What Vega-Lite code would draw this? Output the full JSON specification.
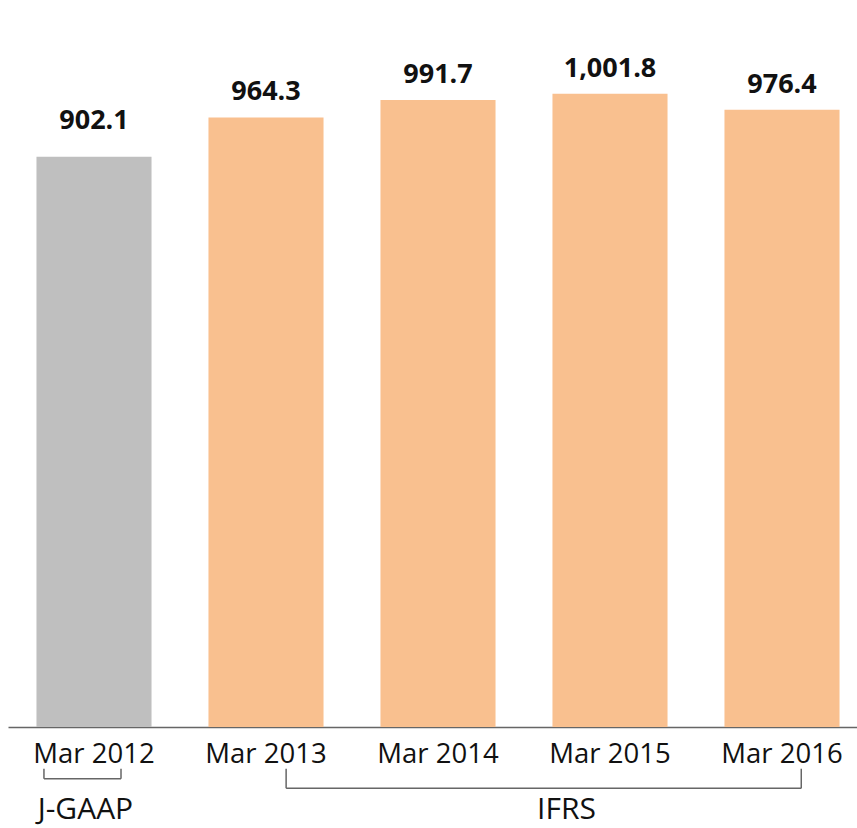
{
  "$schema": "https://vega.github.io/schema/vega-lite/v6.json",
  "width": 860,
  "height": 727,
  "autosize": {"type": "none"},
  "padding": {"left": 8, "top": 0, "right": 0, "bottom": 101},
  "background": "white",
  "config": {"view": {"stroke": null}, "font": "Open Sans"},
  "datasets": {
    "bars": [
      {"period": "Mar 2012", "value": 902.1, "std": "J-GAAP"},
      {"period": "Mar 2013", "value": 964.3, "std": "IFRS"},
      {"period": "Mar 2014", "value": 991.7, "std": "IFRS"},
      {"period": "Mar 2015", "value": 1001.8, "std": "IFRS"},
      {"period": "Mar 2016", "value": 976.4, "std": "IFRS"}
    ],
    "brackets": [
      {"a": -0.291, "b": -0.291, "lo": -82, "hi": -66},
      {"a": -0.291, "b": 0.157, "lo": -82, "hi": -82},
      {"a": 0.157, "b": 0.157, "lo": -82, "hi": -66},
      {"a": 1.117, "b": 1.117, "lo": -97, "hi": -66},
      {"a": 1.117, "b": 4.112, "lo": -97, "hi": -97},
      {"a": 4.112, "b": 4.112, "lo": -97, "hi": -66}
    ],
    "groups": [
      {"pos": -0.05, "label": "J-GAAP", "h": -146},
      {"pos": 2.747, "label": "IFRS", "h": -146}
    ]
  },
  "layer": [
    {
      "layer": [
        {
          "data": {"name": "bars"},
          "mark": {"type": "bar"},
          "encoding": {
            "x": {
              "field": "period", "type": "nominal", "sort": null,
              "scale": {"paddingInner": 0.331, "paddingOuter": 0.1655},
              "axis": {
                "title": null, "ticks": false, "labelAngle": 0,
                "labelFont": "Open Sans", "labelFontSize": 27.5, "labelColor": "#111",
                "labelPadding": 13, "domainColor": "#666", "domainWidth": 1.5
              }
            },
            "y": {
              "field": "value", "type": "quantitative",
              "scale": {"domain": [0, 1150], "nice": false}, "axis": null
            },
            "color": {
              "field": "std", "type": "nominal",
              "scale": {"domain": ["J-GAAP", "IFRS"], "range": ["#bfbfbf", "#f9c08f"]},
              "legend": null
            }
          }
        },
        {
          "data": {"name": "bars"},
          "transform": [{"filter": "datum.std === 'IFRS'"}],
          "mark": {"type": "text", "baseline": "alphabetic", "dy": -17, "fontSize": 27, "fontWeight": "bold", "font": "Open Sans", "color": "#111"},
          "encoding": {
            "x": {"field": "period", "type": "nominal", "sort": null},
            "y": {"field": "value", "type": "quantitative"},
            "text": {"field": "value", "type": "quantitative", "format": ",.1f"}
          }
        },
        {
          "data": {"name": "bars"},
          "transform": [{"filter": "datum.std === 'J-GAAP'"}],
          "mark": {"type": "text", "baseline": "alphabetic", "dy": -28, "fontSize": 27, "fontWeight": "bold", "font": "Open Sans", "color": "#111"},
          "encoding": {
            "x": {"field": "period", "type": "nominal", "sort": null},
            "y": {"field": "value", "type": "quantitative"},
            "text": {"field": "value", "type": "quantitative", "format": ",.1f"}
          }
        }
      ]
    },
    {
      "layer": [
        {
          "data": {"name": "brackets"},
          "mark": {"type": "rule", "color": "#666", "strokeWidth": 1.5},
          "encoding": {
            "x": {"field": "a", "type": "quantitative", "scale": {"domain": [-0.5, 4.5], "nice": false, "zero": false}, "axis": null},
            "x2": {"field": "b"},
            "y": {"field": "lo", "type": "quantitative"},
            "y2": {"field": "hi"}
          }
        },
        {
          "data": {"name": "groups"},
          "mark": {"type": "text", "baseline": "alphabetic", "fontSize": 30, "font": "Open Sans", "color": "#111"},
          "encoding": {
            "x": {"field": "pos", "type": "quantitative"},
            "y": {"field": "h", "type": "quantitative"},
            "text": {"field": "label"}
          }
        }
      ]
    }
  ],
  "resolve": {"scale": {"x": "independent", "color": "independent"}}
}
